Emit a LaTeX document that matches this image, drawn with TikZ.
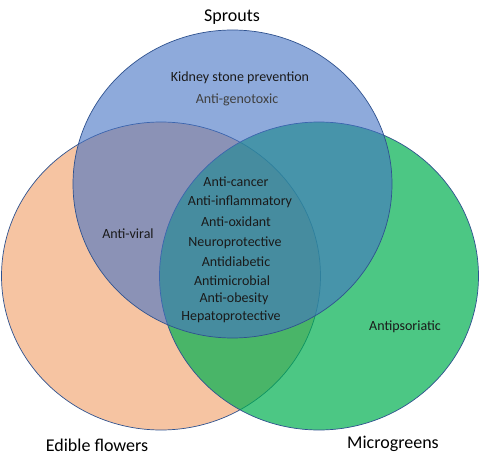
\documentclass[tikz,border=0pt]{standalone}
\usepackage{fontspec}
\setmainfont{Carlito}
\begin{document}
\begin{tikzpicture}[x=1pt,y=1pt]
\definecolor{cblue}{HTML}{4472C4}
\definecolor{corange}{HTML}{F4B183}
\definecolor{cgreen}{HTML}{00B050}
\definecolor{cline}{HTML}{2F528F}
\definecolor{ctext}{HTML}{1A1A1A}
\tikzset{
  setshape/.style={draw=cline, line width=0.7pt},
  inlabel/.style={font=\fontsize{14}{16}\selectfont, text=ctext, inner sep=0pt},
  setlabel/.style={font=\fontsize{18}{21}\selectfont, text=black, inner sep=0pt}
}
\useasboundingbox (0,0) rectangle (480,467);
\fill[white] (0,0) rectangle (480,467);
\filldraw[setshape, fill=corange, fill opacity=0.75] (161,191) ellipse [x radius=159.5pt, y radius=154pt];
\filldraw[setshape, fill=cgreen, fill opacity=0.7] (319,191) ellipse [x radius=159.5pt, y radius=154pt];
\filldraw[setshape, fill=cblue, fill opacity=0.6] (232.5,283) ellipse [x radius=159.5pt, y radius=154pt];

\node[setlabel] (sprouts) at (232,450) {Sprouts};
\node[setlabel] (edible) at (97,22) {Edible flowers};
\node[setlabel] (micro) at (393,23) {Microgreens};

\node[inlabel] (kidney) at (240,389) {Kidney stone prevention};
\node[inlabel, text=black!75] (geno) at (237,367) {Anti-genotoxic};
\node[inlabel] (viral) at (128,233) {Anti-viral};
\node[inlabel] (psor) at (405,140) {Antipsoriatic};

\node[inlabel] (c1) at (236,285) {Anti-cancer};
\node[inlabel] (c2) at (240,265) {Anti-inflammatory};
\node[inlabel] (c3) at (236,245) {Anti-oxidant};
\node[inlabel] (c4) at (235,224.5) {Neuroprotective};
\node[inlabel] (c5) at (236,205) {Antidiabetic};
\node[inlabel] (c6) at (232,186) {Antimicrobial};
\node[inlabel] (c7) at (234,168) {Anti-obesity};
\node[inlabel] (c8) at (231,150) {Hepatoprotective};
\end{tikzpicture}
\end{document}
